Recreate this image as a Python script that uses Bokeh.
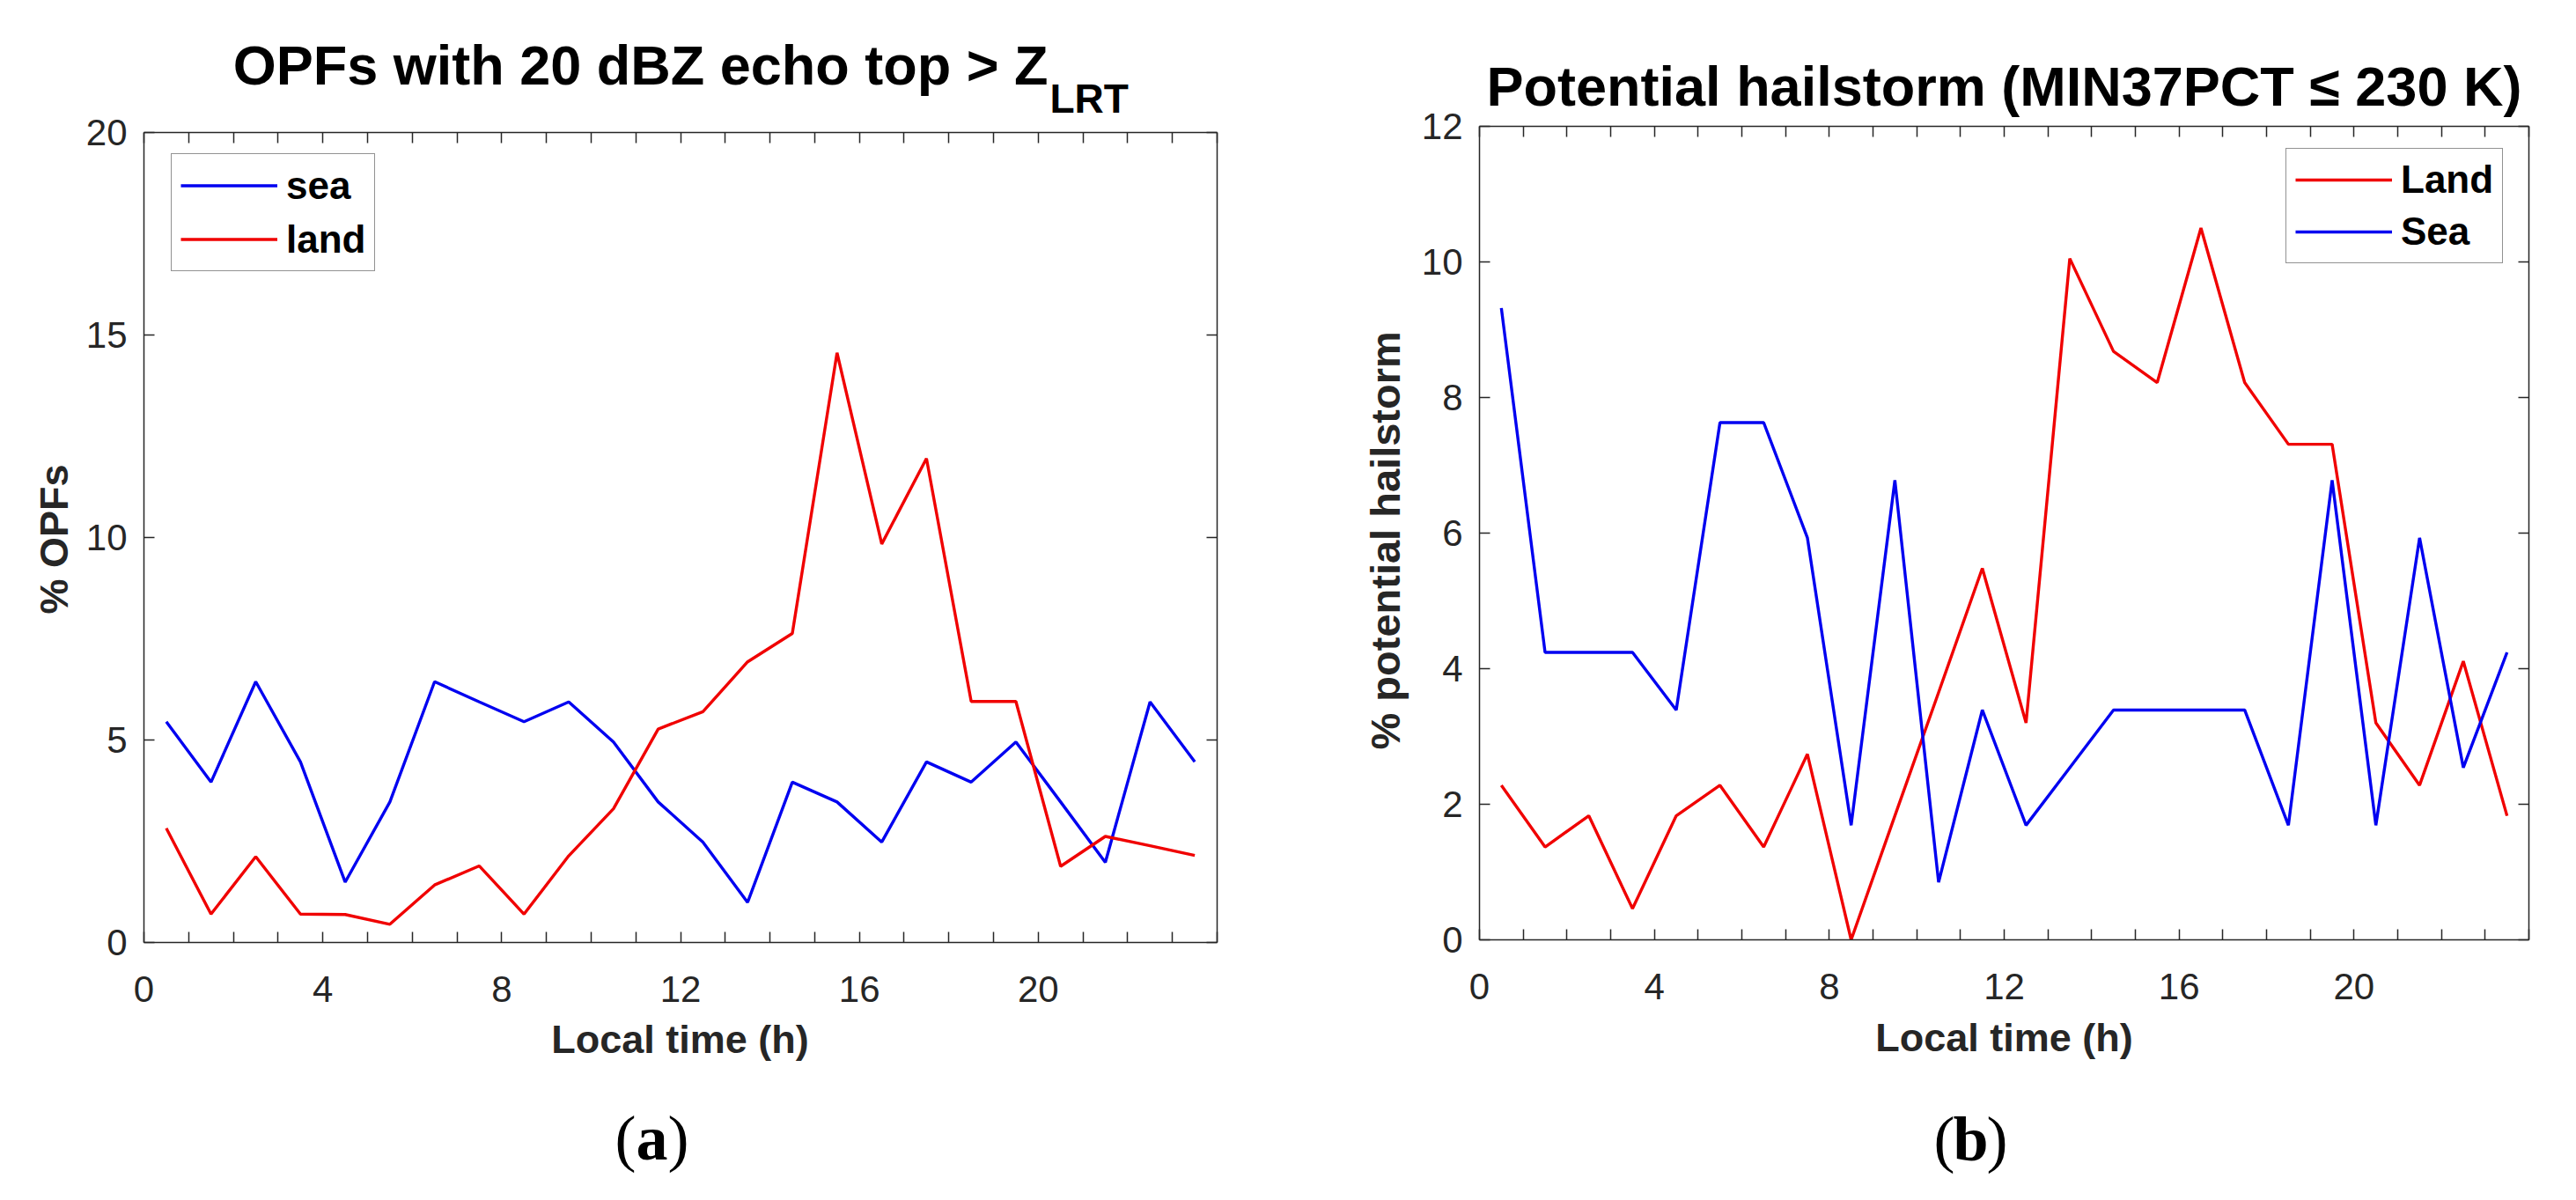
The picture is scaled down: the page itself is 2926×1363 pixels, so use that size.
import math
from bokeh.plotting import figure
from bokeh.models import Range1d, FixedTicker, LinearAxis, Label, Legend, LegendItem
from bokeh.layouts import row
from bokeh.embed import file_html
from bokeh.resources import INLINE

# ---------------- data ----------------
hours = [0.5, 1.5, 2.5, 3.5, 4.5, 5.5, 6.5, 7.5, 8.5, 9.5, 10.5, 11.5,
         12.5, 13.5, 14.5, 15.5, 16.5, 17.5, 18.5, 19.5, 20.5, 21.5, 22.5, 23.5]

# panel (a): % OPFs with 20 dBZ echo top > Z_LRT
sea_a = [5.45, 3.96, 6.44, 4.46, 1.49, 3.47, 6.44, 5.94, 5.45, 5.94, 4.95, 3.47,
         2.48, 0.99, 3.96, 3.47, 2.48, 4.46, 3.96, 4.95, 3.47, 1.98, 5.94, 4.46]
land_a = [2.82, 0.70, 2.12, 0.70, 0.69, 0.45, 1.42, 1.89, 0.70, 2.14, 3.30, 5.27,
          5.70, 6.93, 7.63, 14.56, 9.84, 11.95, 5.95, 5.95, 1.88, 2.62, 2.39, 2.15]

# panel (b): % potential hailstorm (MIN37PCT <= 230 K)
land_b = [2.28, 1.37, 1.83, 0.46, 1.83, 2.28, 1.37, 2.74, 0.00, 1.83, 3.65, 5.48,
          3.20, 10.05, 8.68, 8.22, 10.50, 8.22, 7.31, 7.31, 3.20, 2.28, 4.11, 1.83]
sea_b = [9.32, 4.24, 4.24, 4.24, 3.39, 7.63, 7.63, 5.93, 1.69, 6.78, 0.85, 3.39,
         1.69, 2.54, 3.39, 3.39, 3.39, 3.39, 1.69, 6.78, 1.69, 5.93, 2.54, 4.24]

x_ticks = list(range(0, 25))
x_tick_labels = {t: (str(t) if (t % 4 == 0 and t < 24) else "") for t in x_ticks}
y_ticks_a = [0, 5, 10, 15, 20]
y_ticks_b = [0, 2, 4, 6, 8, 10, 12]

title_a = "OPFs with 20 dBZ echo top > Z"
title_a_sub = "LRT"
title_b = "Potential hailstorm (MIN37PCT \u2264 230 K)"
x_title = "Local time (h)"
y_title_a = "% OPFs"
y_title_b = "% potential hailstorm"

BLUE = "#0000F0"
RED = "#F00000"
AX = "#262626"
SANS = "Liberation Sans"
SERIF = "Liberation Serif"
LW = 3.4

H = 1360                       # canvas height of each panel
W_A, W_B = 1530, 1396          # canvas widths (panel b starts at x = 1530)


def style_axis(ax, ticks, overrides, show_labels=True):
    ax.ticker = FixedTicker(ticks=ticks, minor_ticks=[])
    ax.major_tick_in = 12
    ax.major_tick_out = 0
    ax.minor_tick_in = 0
    ax.minor_tick_out = 0
    ax.major_tick_line_color = AX
    ax.major_tick_line_width = 1.5
    ax.axis_line_color = AX
    ax.axis_line_width = 1.5
    ax.major_label_overrides = overrides
    if show_labels:
        ax.major_label_text_font = SANS
        ax.major_label_text_font_size = "42px"
        ax.major_label_text_color = AX
        ax.major_label_text_font_style = "normal"
    else:
        ax.major_label_text_font_size = "0px"
        ax.major_label_standoff = 0


def make_panel(width, box, ymax, yticks):
    """box = (left, right, top, bottom) of the axes box in canvas pixels.
    The frame is the whole canvas; the box is drawn by four axes at fixed
    locations, so titles and labels can sit inside the frame."""
    bx0, bx1, by0, by1 = box
    ppx = (bx1 - bx0) / 24.0
    ppy = (by1 - by0) / float(ymax)
    x_rng = Range1d(-bx0 / ppx, 24 + (width - bx1) / ppx)
    y_rng = Range1d(-(H - by1) / ppy, ymax + by0 / ppy)
    p = figure(width=width, height=H, x_range=x_rng, y_range=y_rng,
               output_backend="svg", toolbar_location=None, title=None,
               min_border=0, min_border_left=0, min_border_right=0,
               min_border_top=0, min_border_bottom=0)
    p.grid.visible = False
    p.outline_line_color = None
    p.background_fill_color = "white"
    p.border_fill_color = "white"

    xa = p.xaxis[0]
    xa.fixed_location = 0
    xa.bounds = (0, 24)
    style_axis(xa, x_ticks, x_tick_labels)
    xa.major_label_standoff = 38

    ya = p.yaxis[0]
    ya.fixed_location = 0
    ya.bounds = (0, ymax)
    style_axis(ya, yticks, {t: str(t) for t in yticks})
    ya.major_label_standoff = 19

    top = LinearAxis(fixed_location=ymax, bounds=(0, 24))
    style_axis(top, x_ticks, {t: "" for t in x_ticks}, show_labels=False)
    p.add_layout(top, "above")
    right = LinearAxis(fixed_location=24, bounds=(0, ymax))
    style_axis(right, yticks, {t: "" for t in yticks}, show_labels=False)
    p.add_layout(right, "right")
    return p


def style_legend(leg, row_h, spacing):
    leg.label_text_font = SANS
    leg.label_text_font_style = "bold"
    leg.label_text_font_size = "44px"
    leg.label_text_color = "black"
    leg.glyph_width = 110
    leg.glyph_height = row_h
    leg.label_height = row_h
    leg.label_standoff = 10
    leg.padding = 10
    leg.spacing = spacing
    leg.margin = 0
    leg.border_line_color = AX
    leg.border_line_width = 1.5
    leg.background_fill_color = "white"
    leg.background_fill_alpha = 1.0


def text_label(p, x, y_canvas, text, align, size, bold=True, font=SANS,
               color="black", angle=0.0):
    # x, y_canvas: canvas pixels (y measured from the top); vertical centre
    p.add_layout(Label(x=x, y=H - y_canvas, x_units="screen", y_units="screen",
                       text=text, text_align=align, text_baseline="middle",
                       angle=angle, text_font=font,
                       text_font_style="bold" if bold else "normal",
                       text_font_size=size, text_color=color))


def panel_tag(p, cx, cy, letter):
    text_label(p, cx - 18, cy, "(", "right", "72px", bold=False, font=SERIF)
    text_label(p, cx, cy, letter, "center", "72px", bold=True, font=SERIF)
    text_label(p, cx + 18, cy, ")", "left", "72px", bold=False, font=SERIF)


# ---------------- panel (a) ----------------
pa = make_panel(W_A, (163, 1382, 150, 1070), 20, y_ticks_a)
r_sea_a = pa.line(hours, sea_a, line_color=BLUE, line_width=LW)
r_land_a = pa.line(hours, land_a, line_color=RED, line_width=LW)
leg_a = Legend(items=[LegendItem(label="sea", renderers=[r_sea_a]),
                      LegendItem(label="land", renderers=[r_land_a])],
               location=(194, H - 308))
style_legend(leg_a, 51, 10)
pa.add_layout(leg_a)
text_label(pa, 1190, 96 - 0.36 * 63, title_a, "right", "63px")
text_label(pa, 1192, 128 - 0.36 * 46, title_a_sub, "left", "46px")
text_label(pa, 772, 1180, x_title, "center", "45px", color=AX)
# rotated y title: starts (bottom end) at canvas y 697 and reads upwards
text_label(pa, 61, 697, y_title_a, "left", "45px", color=AX, angle=math.pi / 2)
panel_tag(pa, 740, 1292, "a")

# ---------------- panel (b) ----------------
pb = make_panel(W_B, (150, 1342, 143, 1067), 12, y_ticks_b)
r_land_b = pb.line(hours, land_b, line_color=RED, line_width=LW)
r_sea_b = pb.line(hours, sea_b, line_color=BLUE, line_width=LW)
leg_b = Legend(items=[LegendItem(label="Land", renderers=[r_land_b]),
                      LegendItem(label="Sea", renderers=[r_sea_b])],
               location=(1066, H - 299))
style_legend(leg_b, 48, 9)
pb.add_layout(leg_b)
text_label(pb, 746, 120 - 0.36 * 63, title_b, "center", "63px")
text_label(pb, 746, 1178, x_title, "center", "45px", color=AX)
text_label(pb, 43, 851, y_title_b, "left", "47px", color=AX, angle=math.pi / 2)
panel_tag(pb, 708, 1293, "b")

layout = row(pa, pb)
open("out.html", "w").write(file_html(layout, INLINE))
